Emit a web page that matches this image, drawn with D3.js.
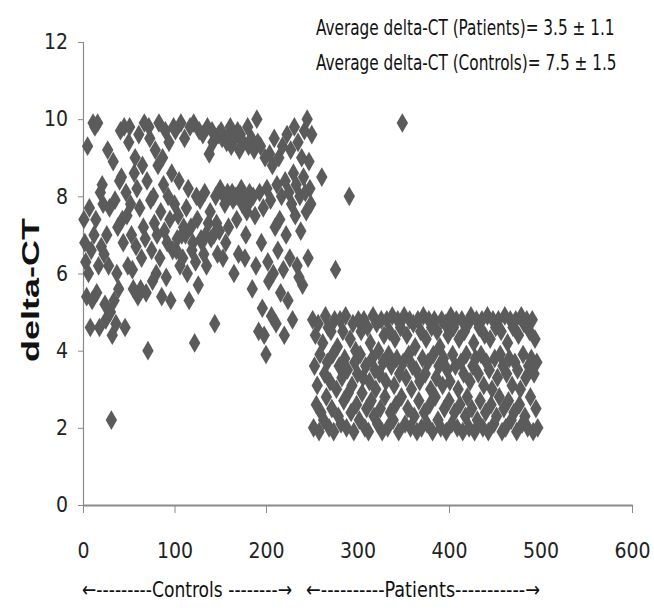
<!DOCTYPE html>
<html><head><meta charset="utf-8">
<script src="https://cdn.jsdelivr.net/npm/d3@7"></script>
<style>
html,body{margin:0;padding:0;background:#fff;}
text{font-family:"Liberation Sans Narrow","DejaVu Sans Condensed","DejaVu Sans",sans-serif;}
</style>
</head><body>
<svg id="c" width="654" height="610"></svg>
<script>
// Controls: sample numbers 1..250
const controlStart = 1;
const controlsY = [
 7.4,6.8,6.3,5.4,9.3,6.0,7.7,4.6,6.6,5.3,
 9.9,7.0,9.8,7.4,5.5,9.9,6.2,4.6,8.1,6.7,
 8.3,7.8,6.5,5.2,4.8,7.0,9.2,6.2,7.7,5.0,
 2.2,4.4,8.9,5.3,7.9,4.7,6.0,7.2,5.6,8.4,
 9.7,8.5,7.4,6.8,9.8,4.6,8.1,7.5,6.2,9.4,
 9.8,7.8,7.0,6.1,5.6,8.6,9.0,6.7,8.2,5.4,
 9.6,7.7,5.6,6.4,8.8,7.2,9.9,6.9,5.5,8.4,
 4.0,9.8,9.5,7.9,6.6,5.8,8.0,7.3,9.2,6.0,
 7.0,8.8,9.9,6.4,7.6,5.4,9.0,8.3,7.1,9.7,
 5.9,6.8,8.0,9.4,7.4,5.3,8.6,6.6,9.8,7.8,
 9.7,6.6,6.9,7.5,8.4,6.2,9.9,7.0,6.4,7.2,
 9.5,7.0,7.7,6.0,8.2,5.3,9.8,7.2,6.6,6.8,
 9.9,4.2,6.3,8.0,7.4,5.7,9.7,7.9,6.9,6.8,
 9.6,6.5,8.1,7.0,6.2,9.8,7.3,9.1,7.6,6.9,
 9.7,9.4,7.0,4.7,8.0,7.3,6.5,9.6,7.1,8.2,
 9.7,9.5,6.4,8.0,7.8,6.8,9.4,8.1,7.2,9.6,
 9.8,9.3,8.1,7.9,6.0,9.5,8.0,7.4,9.7,6.5,
 9.2,9.6,8.2,7.8,9.4,8.0,6.4,7.0,7.6,9.8,
 9.3,8.1,7.9,9.5,5.6,8.0,9.2,7.5,6.2,10.0,
 9.4,4.5,8.1,9.3,6.8,5.1,7.7,4.4,9.0,3.9,
 8.2,6.3,5.8,9.1,7.9,4.9,8.8,6.0,9.5,7.2,
 4.7,8.3,6.6,9.0,7.4,5.5,8.0,9.3,6.1,4.4,
 8.4,7.0,9.6,5.3,8.1,6.4,9.2,7.8,4.8,8.6,
 9.8,7.5,8.3,6.2,9.4,5.9,8.0,7.1,9.0,5.7,
 8.5,9.7,8.1,7.6,10.0,6.4,8.9,8.2,7.8,9.6
];
// Patients: sample numbers 251..497
const patientStart = 251;
const patientsY = [
 4.8,2.0,3.6,4.4,2.6,3.1,4.7,1.9,3.9,2.4,
 8.5,4.2,2.2,3.4,4.9,2.8,3.7,4.6,2.0,3.2,
 4.5,2.5,3.9,1.9,4.8,6.1,3.0,4.1,2.3,3.6,
 4.8,2.1,3.3,4.5,2.7,3.8,4.9,2.0,3.5,2.9,
 8.0,4.3,2.4,3.1,4.7,1.9,3.7,4.0,2.6,3.4,
 4.8,2.2,3.9,4.5,2.9,3.3,4.8,2.0,3.6,2.5,
 4.6,1.9,3.2,4.2,2.7,3.8,4.9,2.3,3.5,3.0,
 4.7,2.1,4.0,3.4,2.5,4.8,1.9,3.7,4.4,2.8,
 3.2,4.8,2.0,3.9,4.5,2.4,3.6,4.9,2.2,3.1,
 4.3,2.6,3.8,4.8,1.9,3.4,4.6,2.8,9.9,3.7,
 4.9,2.1,3.3,4.4,2.5,3.9,4.8,2.0,3.0,3.6,
 4.7,2.3,4.1,3.5,1.9,4.8,2.7,3.2,4.5,2.0,
 3.8,4.9,2.4,3.4,4.3,2.1,3.7,4.8,2.6,3.0,
 4.6,1.9,3.9,4.8,2.8,3.3,4.5,2.2,3.6,4.1,
 2.0,4.8,3.1,3.8,2.5,4.7,1.9,3.5,4.4,2.7,
 3.2,4.9,2.1,3.9,4.6,2.4,3.6,4.8,2.0,3.0,
 4.3,2.6,3.7,4.8,1.9,3.4,4.5,2.3,3.9,2.8,
 4.7,2.0,3.2,4.9,2.5,3.6,4.2,1.9,3.8,4.8,
 2.2,3.4,4.6,2.7,3.9,4.8,2.0,3.1,4.4,2.4,
 3.7,4.9,1.9,3.5,4.3,2.6,3.0,4.8,2.1,3.8,
 4.6,2.3,3.3,4.8,2.8,3.9,4.5,1.9,3.6,2.5,
 4.9,2.0,3.4,4.2,2.7,3.8,4.8,2.2,3.1,4.6,
 2.4,3.7,4.8,1.9,3.5,4.4,2.6,3.0,4.9,2.1,
 3.9,4.7,2.3,3.3,4.8,2.0,3.6,4.5,2.8,3.8,
 4.8,1.9,3.4,4.3,2.5,3.7,2.0
];
const xTickValues = [0,100,200,300,400,500,600];
const xTicksWithMark = [0,100,200,400,600];
const yTickValues = [0,2,4,6,8,10,12];
const annotations = ["Average delta-CT (Patients)= 3.5 \u00b1 1.1", "Average delta-CT (Controls)= 7.5 \u00b1 1.5"];
const groupLabels = ["\u2190---------Controls --------\u2192", "\u2190----------Patients-----------\u2192"];
const yTitle = "delta-CT";

const points = controlsY.map((y,i)=>({x:controlStart+i,y}))
  .concat(patientsY.map((y,i)=>({x:patientStart+i,y})));

const svg = d3.select("#c");
svg.append("rect").attr("width",654).attr("height",610).attr("fill","#fff");
const x = d3.scaleLinear().domain([0,600]).range([83,632]);
const y = d3.scaleLinear().domain([0,12]).range([505,42]);
const axisColor = "#8a8a8a";

// y axis
const gy = svg.append("g").attr("transform","translate(83,0)")
  .call(d3.axisLeft(y).tickValues(yTickValues).tickSize(5).tickPadding(10).tickFormat(d3.format("d")));
gy.select(".domain").attr("stroke",axisColor).attr("stroke-width",1.2);
gy.selectAll(".tick line").attr("stroke",axisColor);
gy.selectAll(".tick text").attr("font-size",21).attr("fill","#222");

// x axis
const gx = svg.append("g").attr("transform","translate(0,505)")
  .call(d3.axisBottom(x).tickValues(xTickValues).tickSize(8).tickPadding(30).tickSizeOuter(0).tickFormat(d3.format("d")));
gx.select(".domain").attr("stroke",axisColor).attr("stroke-width",2);
gx.selectAll(".tick line").attr("stroke",axisColor)
  .attr("opacity",d=>xTicksWithMark.includes(d)?1:0);
gx.selectAll(".tick text").attr("font-size",21).attr("fill","#222");

// points
const sym = d3.symbol().type(d3.symbolDiamond).size(112);
svg.append("g").selectAll("path").data(points).join("path")
  .attr("d",sym)
  .attr("transform",d=>`translate(${x(d.x)},${y(d.y)})`)
  .attr("fill","#5b5b5b");

// y title
svg.append("text").attr("transform","translate(39,290) rotate(-90)")
  .attr("text-anchor","middle")
  .style("font-family","'Liberation Sans',Arial,sans-serif")
  .attr("font-weight","bold").attr("font-size",24).attr("fill","#111")
  .attr("textLength",144).attr("lengthAdjust","spacingAndGlyphs")
  .text(yTitle);

// annotations (stretched vertically like the reference)
annotations.forEach((t,i)=>{
  svg.append("text").attr("transform",`translate(316,${35+i*35}) scale(1,1.25)`)
    .attr("font-size",17).attr("fill","#111")
    .text(t);
});

// group labels
svg.append("text").attr("x",82).attr("y",597).attr("font-size",21).attr("fill","#111")
  .attr("textLength",210).attr("lengthAdjust","spacingAndGlyphs").text(groupLabels[0]);
svg.append("text").attr("x",306).attr("y",597).attr("font-size",21).attr("fill","#111")
  .attr("textLength",234).attr("lengthAdjust","spacingAndGlyphs").text(groupLabels[1]);
</script>
</body></html>
